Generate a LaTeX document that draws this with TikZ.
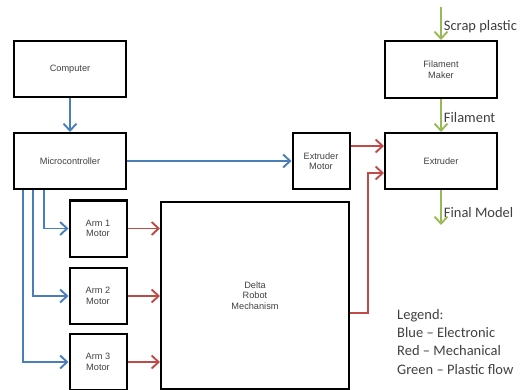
\documentclass[tikz,border=0pt]{standalone}
\usepackage{fontspec}
\setmainfont{Liberation Sans}
\newfontfamily\labelfont{Carlito}
\usepackage{xcolor}
\usepackage{tikz}
\usetikzlibrary{arrows.meta}

\definecolor{elecblue}{HTML}{4A7EBB}
\definecolor{mechred}{HTML}{BE4B48}
\definecolor{flowgreen}{HTML}{98B954}
\definecolor{txtgray}{HTML}{404040}

\begin{document}
\begin{tikzpicture}[
  x=1pt,y=-1pt,
  font=\fontsize{9.2}{10.5}\selectfont,
  box/.style={draw,line width=2pt,align=center,text=txtgray,inner sep=0pt},
  wide/.style={box,minimum width=112pt,minimum height=56pt},
  small/.style={box,minimum width=57pt,minimum height=56pt},
  arr/.style={-{Straight Barb[length=7pt,width=13pt,line width=1.9pt]},line width=1.9pt},
  elec/.style={arr,elecblue},
  mech/.style={arr,mechred},
  flow/.style={arr,flowgreen},
  tag/.style={right,inner sep=2pt,text=txtgray,font=\labelfont\fontsize{14.5}{16}\selectfont},
]
\useasboundingbox (0,0) rectangle (527,390);
\node[wide] (comp) at (70,69) {Computer};
\node[wide] (micro) at (70,161) {Microcontroller};
\node[small] (extm) at (321,161) {Extruder\\Motor};
\node[wide] (extr) at (441,161) {Extruder};
\node[wide, minimum height=57pt] (fila) at (441,69.5) {Filament\\Maker};
\node[small] (arm1) at (98,228.5) {Arm 1\\Motor};
\node[small] (arm2) at (98,296) {Arm 2\\Motor};
\node[small] (arm3) at (98,362) {Arm 3\\Motor};
\node[box, minimum width=188pt, minimum height=187pt] (delta) at (255,295.5) {Delta\\Robot\\Mechanism};
\coordinate (scrap) at (441,7);
\coordinate (model) at (441,225);
\draw[elec] (comp) -- (micro);
\draw[elec] (micro) -- (extm);
\draw[elec] ([xshift=31pt]micro.south west) |- (arm1);
\draw[elec] ([xshift=20pt]micro.south west) |- (arm2);
\draw[elec] ([xshift=10pt]micro.south west) |- (arm3);
\draw[mech] (arm1) -- (arm1 -| delta.west);
\draw[mech] (arm2) -- (arm2 -| delta.west);
\draw[mech] (arm3) -- (arm3 -| delta.west);
\draw[mech] ([yshift=15pt]extm.east) -- ([yshift=15pt]extr.west);
\draw[mech] ([yshift=-17.5pt]delta.east) -- ++(18,0) |- ([yshift=-12pt]extr.west);
\draw[flow] (scrap) -- node[tag,pos=0.6] {Scrap plastic} (fila);
\draw[flow] (fila) -- node[tag,pos=0.55] {Filament} (extr);
\draw[flow] (extr) -- node[tag,pos=0.65] {Final Model} (model);
\node[anchor=north west,align=left,inner sep=0pt,text=txtgray,font=\labelfont\fontsize{14.5}{18.3}\selectfont] (legend) at (397,309)
  {Legend:\\Blue – Electronic\\Red – Mechanical\\Green – Plastic flow};
\end{tikzpicture}
\end{document}
